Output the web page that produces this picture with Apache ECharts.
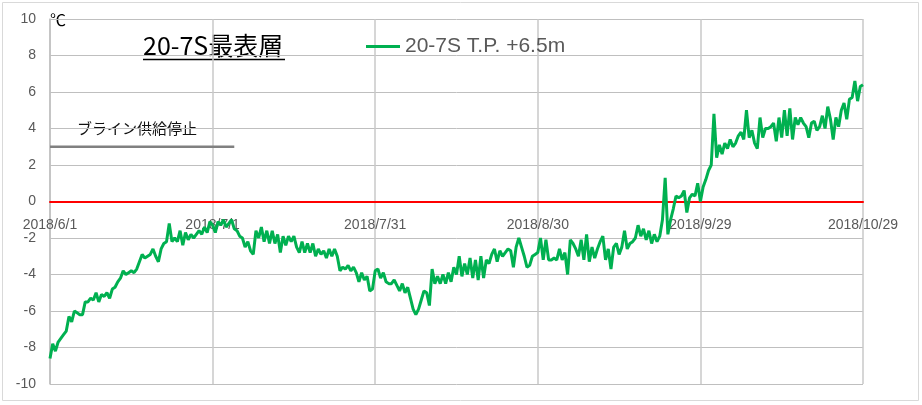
<!DOCTYPE html>
<html>
<head>
<meta charset="utf-8">
<title>20-7S最表層</title>
<script src="https://cdn.jsdelivr.net/npm/echarts@6.0.0/dist/echarts.min.js"></script>
<style>
  html, body { margin: 0; padding: 0; background: #fff; }
  #main { width: 922px; height: 405px; }
</style>
</head>
<body>
<div id="main"></div>
<script>
// 12時間ごとの温度 (2018/6/1 0:00 〜 2018/10/29 0:00)
var tempJun = [
  -8.6,-7.8,-8.2,-7.7,-7.5,-7.3,-7.1,-6.3,-6.6,-6.0,
  -6.1,-6.2,-6.2,-5.5,-5.5,-5.3,-5.4,-5.0,-5.5,-5.1,
  -5.2,-5.0,-5.3,-4.8,-4.7,-4.4,-4.2,-3.8,-4.0,-3.9,
  -3.8,-3.9,-3.7,-3.3,-2.9,-3.1,-3.0,-2.9,-2.6,-3.0,
  -3.3,-2.6,-2.3,-2.2,-1.2,-2.2,-2.0,-2.2,-1.6,-2.4,
  -1.7,-2.1,-1.8,-2.0,-1.8,-1.6,-1.8,-1.4,-1.7,-1.1
];
var tempJul = [
  -1.3,-1.7,-1.1,-1.3,-1.0,-1.4,-1.2,-1.0,-1.5,-1.6,
  -1.9,-2.0,-2.5,-2.2,-2.7,-2.9,-1.6,-2.0,-1.4,-2.2,
  -1.6,-2.3,-1.6,-2.3,-1.8,-2.8,-1.9,-2.4,-1.9,-2.2,
  -1.9,-2.5,-2.8,-2.2,-2.8,-2.3,-2.8,-2.3,-3.0,-2.6,
  -2.9,-2.7,-3.1,-2.6,-3.0,-2.6,-3.0,-3.8,-3.6,-3.7,
  -3.5,-3.8,-3.6,-3.9,-4.4,-3.9,-4.3,-4.1,-4.9,-4.8
];
var tempAug = [
  -3.8,-3.7,-4.2,-3.9,-4.4,-4.5,-4.5,-4.3,-4.6,-4.9,
  -4.5,-5.0,-4.7,-5.3,-5.9,-6.2,-5.9,-5.4,-4.9,-5.0,
  -5.7,-3.7,-4.5,-4.1,-4.5,-4.0,-4.5,-3.9,-4.4,-3.6,
  -4.0,-3.0,-4.1,-3.4,-4.0,-3.1,-4.2,-3.2,-4.3,-3.0,
  -4.2,-3.2,-3.4,-2.9,-2.6,-3.3,-2.7,-3.0,-2.8,-2.6,
  -2.7,-3.6,-2.5,-2.0,-2.5,-3.0,-3.6,-3.5,-3.0,-2.9
];
var tempSep = [
  -2.8,-2.0,-3.2,-2.1,-3.2,-3.2,-3.1,-3.2,-2.6,-3.2,
  -2.8,-4.0,-2.1,-2.3,-2.6,-3.0,-2.1,-3.2,-1.8,-3.3,
  -2.5,-3.1,-2.6,-2.2,-1.9,-3.2,-2.6,-3.7,-2.5,-2.3,
  -2.9,-2.5,-1.6,-2.6,-2.3,-2.2,-2.0,-1.3,-1.9,-1.5,
  -2.1,-1.6,-2.3,-1.8,-2.2,-1.9,-1.0,1.3,-1.8,-1.0,
  -0.4,0.3,0.2,0.3,0.6,-0.6,0.2,0.4,0.3,1.0
];
var tempOct = [
  0.0,0.8,1.2,1.7,2.0,4.8,2.4,3.1,2.6,3.2,
  2.9,3.4,3.0,3.2,3.6,3.8,3.4,5.0,3.5,3.9,
  3.2,2.9,4.6,3.5,4.0,4.0,4.1,4.3,3.3,4.6,
  3.5,5.0,3.6,5.1,3.4,4.6,4.2,4.6,4.3,4.1,
  3.5,4.3,4.4,3.9,4.1,4.7,4.0,5.2,4.5,3.4,
  4.6,4.1,5.0,5.4,4.5,5.6,5.7,6.6,5.5,6.3,6.4
];
var tempValues = tempJun.concat(tempJul, tempAug, tempSep, tempOct);

// ブライン供給停止ライン
var brineDates = ['2018/6/1 0:00', '2018/7/5 0:00'];
var brineLevel = [3, 3];

var xTickLabels = ['2018/6/1', '2018/7/1', '2018/7/31', '2018/8/30', '2018/9/29', '2018/10/29'];
var yTicks = { min: -10, max: 10, step: 2 };

var seriesName = '20-7S T.P. +6.5m';
var titleText = '20-7S最表層';
var noteText = 'ブライン供給停止';

// categories: 12時間刻みの日時
var categories = [];
var start = Date.UTC(2018, 5, 1);
for (var i = 0; i < tempValues.length; i++) {
  var d = new Date(start + i * 12 * 3600 * 1000);
  categories.push(d.getUTCFullYear() + '/' + (d.getUTCMonth() + 1) + '/' + d.getUTCDate() + ' ' + d.getUTCHours() + ':00');
}
var tickStep = 60;

var myChart = echarts.init(document.getElementById('main'));

myChart.setOption({
  animation: false,
  grid: {
    left: 50,
    right: 59,
    top: 19,
    bottom: 21,
    containLabel: false,
    outerBoundsMode: 'none'
  },
  legend: {
    data: [seriesName],
    left: 361,
    top: 31,
    icon: 'rect',
    itemWidth: 34,
    itemHeight: 3,
    textStyle: {
      color: '#595959',
      fontSize: 21,
      fontFamily: 'Liberation Sans'
    }
  },
  xAxis: {
    type: 'category',
    data: categories,
    boundaryGap: false,
    axisLine: {
      onZero: true,
      lineStyle: { color: '#ff0000', width: 2 }
    },
    axisTick: { show: false },
    axisLabel: {
      interval: function (idx) { return idx % tickStep === 0; },
      formatter: function (val, idx) { return xTickLabels[idx / tickStep] || ''; },
      color: '#595959',
      fontSize: 14,
      fontFamily: 'Liberation Sans',
      // 0の線のすぐ下に置く
      margin: -166
    },
    splitLine: {
      show: true,
      interval: function (idx) { return idx % tickStep === 0; },
      lineStyle: { color: '#c8c8c8', width: 1.5 }
    }
  },
  yAxis: {
    type: 'value',
    min: yTicks.min,
    max: yTicks.max,
    interval: yTicks.step,
    axisLine: {
      show: true,
      lineStyle: { color: '#bfbfbf', width: 1.5 }
    },
    axisTick: { show: false },
    axisLabel: {
      color: '#595959',
      fontSize: 14,
      fontFamily: 'Liberation Sans',
      margin: 14
    },
    splitLine: {
      lineStyle: { color: '#bfbfbf', width: 1 }
    }
  },
  series: [
    {
      name: 'brine',
      type: 'line',
      data: brineDates.map(function (t, k) { return [t, brineLevel[k]]; }),
      symbol: 'none',
      lineStyle: { color: '#808080', width: 2.5 },
      itemStyle: { color: '#808080' }
    },
    {
      name: seriesName,
      type: 'line',
      data: tempValues,
      symbol: 'none',
      lineStyle: { color: '#00b050', width: 3 },
      itemStyle: { color: '#00b050' }
    }
  ],
  graphic: [
    {
      type: 'rect',
      shape: { x: 2.5, y: 2.5, width: 916, height: 398 },
      style: { fill: 'none', stroke: '#d9d9d9', lineWidth: 1 },
      silent: true
    },
    {
      type: 'text',
      left: 50,
      top: 12,
      style: { text: '℃', fill: '#000', font: '16px "Noto Sans CJK JP"' }
    },
    {
      type: 'text',
      left: 143,
      top: 33,
      style: { text: titleText, fill: '#000', font: '25px "Noto Sans CJK JP"' }
    },
    {
      type: 'line',
      shape: { x1: 143, y1: 59.5, x2: 285, y2: 59.5 },
      style: { stroke: '#000', lineWidth: 1.5 }
    },
    {
      type: 'text',
      left: 77,
      top: 121,
      style: { text: noteText, fill: '#111', font: '15px "Noto Sans CJK JP"' }
    }
  ]
});
</script>
</body>
</html>
